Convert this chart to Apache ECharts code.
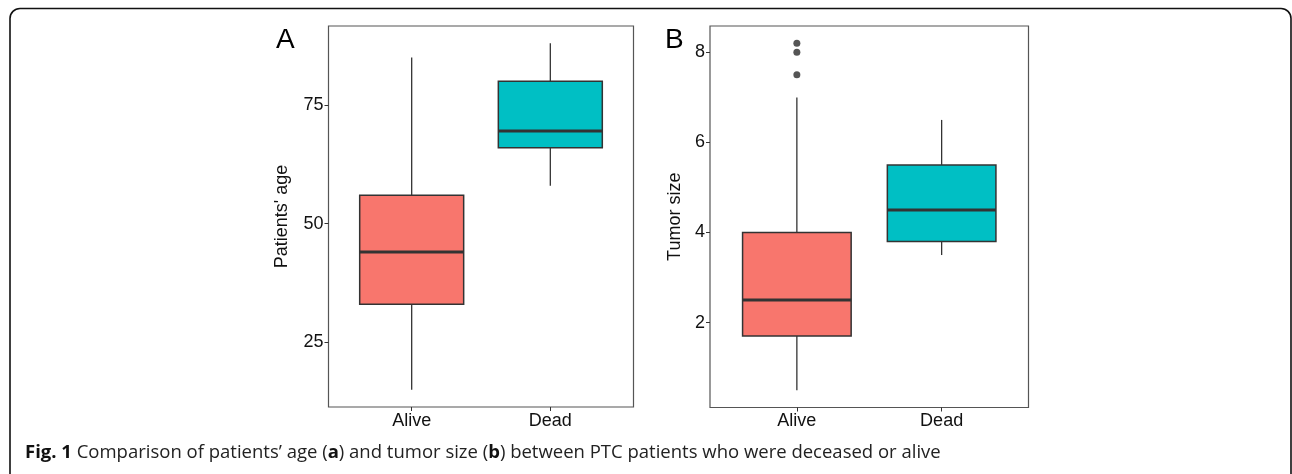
<!DOCTYPE html>
<html>
<head>
<meta charset="utf-8">
<script src="https://cdn.jsdelivr.net/npm/echarts@6/dist/echarts.min.js"></script>
<style>
html,body{margin:0;padding:0;background:#fff;}
#chart{width:1292px;height:474px;}
</style>
</head>
<body>
<div id="chart"></div>
<script>
// ---- data ----
const categories = ['Alive', 'Dead'];
// [min whisker, Q1, median, Q3, max whisker]
const ageStats = [
  [15, 33, 44, 56, 85],
  [58, 66, 69.5, 80, 88]
];
const sizeStats = [
  [0.5, 1.7, 2.5, 4.0, 7.0],
  [3.5, 3.8, 4.5, 5.5, 6.5]
];
const sizeOutliersAlive = [8.2, 8.0, 7.5];
const ageTicks = [25, 50, 75];
const sizeTicks = [2, 4, 6, 8];

const fillColors = ['#F8766D', '#00BFC4'];
const lineColor = '#333333';
const axisFont = '"Liberation Sans", Arial, sans-serif';

function boxData(stats) {
  return stats.map((s, i) => ({ value: [i + 1].concat(s), itemStyle: { color: fillColors[i] } }));
}

function renderBox(params, api) {
  const x = api.value(0);
  const lo = api.coord([x, api.value(1)]);
  const q1 = api.coord([x, api.value(2)]);
  const md = api.coord([x, api.value(3)]);
  const q3 = api.coord([x, api.value(4)]);
  const hi = api.coord([x, api.value(5)]);
  const w = api.size([0.75, 0])[0];
  const cx = lo[0];
  const ls = { stroke: lineColor, lineWidth: 1.3 };
  return {
    type: 'group',
    children: [
      { type: 'line', shape: { x1: cx, y1: lo[1], x2: cx, y2: q1[1] }, style: ls },
      { type: 'line', shape: { x1: cx, y1: q3[1], x2: cx, y2: hi[1] }, style: ls },
      { type: 'rect', shape: { x: cx - w / 2, y: q3[1], width: w, height: q1[1] - q3[1] },
        style: { fill: api.visual('color'), stroke: lineColor, lineWidth: 1.5 } },
      { type: 'line', shape: { x1: cx - w / 2, y1: md[1], x2: cx + w / 2, y2: md[1] },
        style: { stroke: lineColor, lineWidth: 3 } }
    ]
  };
}

function xAxisDef(gridIndex) {
  return {
    type: 'value', gridIndex: gridIndex, min: 0.4, max: 2.6,
    axisLine: { show: false },
    splitLine: { show: false },
    axisTick: { show: true, length: 4, lineStyle: { color: '#333' }, customValues: [1, 2] },
    axisLabel: {
      customValues: [1, 2], margin: 5,
      formatter: v => categories[Math.round(v) - 1],
      color: '#111', fontSize: 18, fontFamily: axisFont
    }
  };
}

function yAxisDef(gridIndex, min, max, ticks, name, gap) {
  return {
    type: 'value', gridIndex: gridIndex, min: min, max: max,
    name: name, nameLocation: 'middle', nameGap: gap,
    nameTextStyle: { color: '#111', fontSize: 18, fontFamily: axisFont },
    axisLine: { show: false },
    splitLine: { show: false },
    axisTick: { show: true, length: 4, lineStyle: { color: '#333' }, customValues: ticks },
    axisLabel: { customValues: ticks, margin: 5, color: '#111', fontSize: 18, fontFamily: axisFont }
  };
}

const chart = echarts.init(document.getElementById('chart'), null, { renderer: 'canvas' });
chart.setOption({
  backgroundColor: '#fff',
  animation: false,
  grid: [
    { left: 328.5, top: 26, width: 305, height: 381, show: true, borderColor: '#555', borderWidth: 1.2, backgroundColor: 'transparent' },
    { left: 710, top: 26, width: 318.5, height: 381.5, show: true, borderColor: '#555', borderWidth: 1.2, backgroundColor: 'transparent' }
  ],
  xAxis: [xAxisDef(0), xAxisDef(1)],
  yAxis: [
    yAxisDef(0, 11.35, 91.65, ageTicks, "Patients' age", 37),
    yAxisDef(1, 0.115, 8.585, sizeTicks, 'Tumor size', 26)
  ],
  series: [
    { type: 'custom', xAxisIndex: 0, yAxisIndex: 0, renderItem: renderBox,
      encode: { x: 0, y: [1, 2, 3, 4, 5] }, data: boxData(ageStats) },
    { type: 'custom', xAxisIndex: 1, yAxisIndex: 1, renderItem: renderBox,
      encode: { x: 0, y: [1, 2, 3, 4, 5] }, data: boxData(sizeStats) },
    { type: 'scatter', xAxisIndex: 1, yAxisIndex: 1, symbolSize: 7,
      itemStyle: { color: '#2b2b2b' },
      data: sizeOutliersAlive.map(v => [1, v]) }
  ],
  graphic: [
    { type: 'rect', shape: { x: 10, y: 8.5, width: 1281, height: 480, r: 10 },
      style: { fill: 'none', stroke: '#111', lineWidth: 1.6 }, silent: true },
    { type: 'text', left: 276, top: 26, style: { text: 'A', fontSize: 28, fontFamily: axisFont, fill: '#000' } },
    { type: 'text', left: 665, top: 26, style: { text: 'B', fontSize: 28, fontFamily: axisFont, fill: '#000' } },
    { type: 'text', left: 25, top: 443,
      style: {
        text: '{b|Fig. 1} Comparison of patients\u2019 age ({b|a}) and tumor size ({b|b}) between PTC patients who were deceased or alive',
        fontSize: 18.5, fontFamily: '"Open Sans", sans-serif', fill: '#222',
        rich: { b: { fontWeight: 'bold', fontSize: 18.5, fontFamily: '"Open Sans", sans-serif', fill: '#111' } }
      } }
  ]
});
</script>
</body>
</html>
